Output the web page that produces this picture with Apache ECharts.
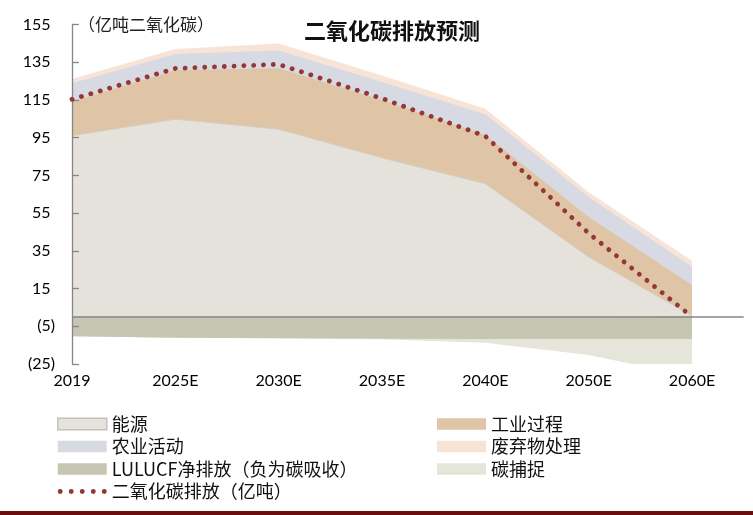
<!DOCTYPE html>
<html>
<head>
<meta charset="utf-8">
<title>二氧化碳排放预测</title>
<script src="https://cdn.jsdelivr.net/npm/echarts@6/dist/echarts.min.js"></script>
<style>
    html, body {margin: 0; padding: 0; background: #fff;}
    #report_box_id {width: 753px; height: 515px;}
</style>
</head>
<body>
<div id="report_box_id"></div>
<script>
// 横轴年份（等距排列）
var categories = ['2019', '2025E', '2030E', '2035E', '2040E', '2050E', '2060E'];
var yearIndex = [0, 1, 2, 3, 4, 5, 6];
// 正值部分（亿吨）
var energy = [96.0, 104.8, 99.5, 84.3, 70.6, 31.7, 0.5];
var industry = [18.2, 26.0, 32.3, 30.7, 25.8, 21.3, 16.4];
var agriculture = [9.7, 8.6, 9.4, 9.5, 11.0, 10.5, 9.7];
var waste = [2.2, 2.6, 3.7, 3.5, 2.9, 2.5, 3.2];
// 负值部分，2050E 与 2060E 之间有一个转折点
var negIndex = [0, 1, 2, 3, 4, 5, 5.5, 6];
var lulucf = [-10.3, -11.1, -11.3, -11.6, -11.7, -11.7, -11.7, -11.7];
var capture = [0, 0, 0, -0.3, -2.0, -8.5, -14.2, -14.2];
// 二氧化碳净排放
var co2 = [115.3, 131.7, 133.9, 115.8, 95.8, 44.3, 0];
// 纵轴刻度
var yTicks = [-25, -5, 15, 35, 55, 75, 95, 115, 135, 155];

var cjkFont = '"Noto Sans CJK SC", sans-serif';
var numFont = 'Lato, "Liberation Sans", sans-serif';
// 图例中的五个圆点
var dotsIcon = 'path://M0,2.35a2.35,2.35 0 1,0 4.7,0a2.35,2.35 0 1,0 -4.7,0z' +
    'M10.5,2.35a2.35,2.35 0 1,0 4.7,0a2.35,2.35 0 1,0 -4.7,0z' +
    'M21,2.35a2.35,2.35 0 1,0 4.7,0a2.35,2.35 0 1,0 -4.7,0z' +
    'M31.5,2.35a2.35,2.35 0 1,0 4.7,0a2.35,2.35 0 1,0 -4.7,0z' +
    'M42,2.35a2.35,2.35 0 1,0 4.7,0a2.35,2.35 0 1,0 -4.7,0z';

function pairs(xs, ys) {
    var list = [];
    for (var i = 0, lens = xs.length; i < lens; i++) {
        list.push([xs[i], ys[i]]);
    }
    return list;
}

// 逐层累加，得到每一层的上（下）边界
function addUp(lists) {
    var out = [];
    for (var i = 0, lens = lists[0].length; i < lens; i++) {
        var sum = 0;
        for (var k = 0; k < lists.length; k++) {
            sum += lists[k][i];
        }
        out.push(Math.round(sum * 100) / 100);
    }
    return out;
}

function areaSeries(name, xs, ys, color, edge) {
    return {
        name: name,
        type: 'line',
        symbol: 'none',
        data: pairs(xs, ys),
        itemStyle: {color: color},
        lineStyle: edge ? {width: 1, color: edge} : {width: 0},
        areaStyle: {color: color, opacity: 1, origin: 0},
        z: 2
    };
}

function rectLegend(name, color, border) {
    return {
        name: name,
        icon: 'rect',
        itemStyle: {color: color, borderColor: border || color, borderWidth: border ? 1.5 : 0}
    };
}

function initChart() {
    var myChart = echarts.init(document.getElementById('report_box_id'));
    var energyTop = energy;
    var industryTop = addUp([energy, industry]);
    var agricultureTop = addUp([energy, industry, agriculture]);
    var wasteTop = addUp([energy, industry, agriculture, waste]);
    var captureBottom = addUp([lulucf, capture]);
    var option = {
        animation: false,
        title: [{
            text: '二氧化碳排放预测',
            left: 299, top: 15,
            textStyle: {fontFamily: cjkFont, fontSize: 22, fontWeight: 'bold', color: '#111'}
        }, {
            text: '（亿吨二氧化碳）',
            left: 73, top: 11,
            textStyle: {fontFamily: cjkFont, fontSize: 17, fontWeight: 'normal', color: '#222'}
        }],
        legend: [{
            orient: 'vertical',
            left: 52, top: 410,
            itemWidth: 49, itemHeight: 11.5, itemGap: 4.5,
            selectedMode: false,
            textStyle: {fontFamily: cjkFont, fontSize: 18, lineHeight: 18, color: '#111'},
            data: [
                rectLegend('能源', '#e5e1db', '#c6c2bb'),
                rectLegend('农业活动', '#d7dae2'),
                rectLegend('LULUCF净排放（负为碳吸收）', '#c7c6b3'),
                {name: '二氧化碳排放（亿吨）', icon: dotsIcon, itemStyle: {color: '#953735', borderWidth: 0}}
            ]
        }, {
            orient: 'vertical',
            left: 432, top: 410,
            itemWidth: 49, itemHeight: 11.5, itemGap: 4.5,
            selectedMode: false,
            textStyle: {fontFamily: cjkFont, fontSize: 18, lineHeight: 18, color: '#111'},
            data: [
                rectLegend('工业过程', '#dfc5a5'),
                rectLegend('废弃物处理', '#f7e4d6'),
                rectLegend('碳捕捉', '#e6e5d9')
            ]
        }],
        grid: {left: 72, right: 9.3, top: 24.5, bottom: 151},
        xAxis: {
            type: 'value',
            min: 0, max: 6.5,
            axisLine: {show: false, onZero: false},
            axisTick: {show: false},
            splitLine: {show: false},
            axisLabel: {
                customValues: yearIndex,
                margin: 9,
                fontFamily: numFont, fontSize: 16, color: '#000',
                formatter: function (v) {
                    return categories[v] || '';
                }
            }
        },
        yAxis: {
            type: 'value',
            min: -25, max: 155,
            z: 3,
            splitLine: {show: false},
            axisLine: {show: true, onZero: false, lineStyle: {color: '#868686', width: 1.3}},
            axisTick: {show: true, inside: true, length: 7, customValues: yTicks, lineStyle: {color: '#868686', width: 1.3}},
            axisLabel: {
                customValues: yTicks,
                margin: 17,
                formatter: function (v) {
                    return v < 0 ? '{n|(' + Math.abs(v) + ')}' : '{p|' + v + '}';
                },
                rich: {
                    p: {fontFamily: numFont, fontSize: 16, color: '#000', padding: [0, 4.5, 0, 0]},
                    n: {fontFamily: numFont, fontSize: 16, color: '#000'}
                }
            }
        },
        series: [
            // 先画外层，再由内层覆盖
            areaSeries('废弃物处理', yearIndex, wasteTop, '#f7e4d6'),
            areaSeries('农业活动', yearIndex, agricultureTop, '#d7dae2'),
            areaSeries('工业过程', yearIndex, industryTop, '#dfc5a5'),
            areaSeries('能源', yearIndex, energyTop, '#e5e1db', '#d3cfc8'),
            areaSeries('碳捕捉', negIndex, captureBottom, '#e6e5d9'),
            areaSeries('LULUCF净排放（负为碳吸收）', negIndex, lulucf, '#c7c6b3'),
            {
                name: '二氧化碳排放（亿吨）',
                type: 'line',
                symbol: 'none',
                data: pairs(yearIndex, co2),
                itemStyle: {color: '#953735'},
                lineStyle: {color: '#953735', width: 4.8, type: [0.1, 9.7], cap: 'round'},
                z: 4,
                markLine: {
                    silent: true,
                    symbol: 'none',
                    label: {show: false},
                    lineStyle: {color: '#868686', width: 1.5, type: 'solid'},
                    data: [{yAxis: 0}],
                    z: 3
                }
            }
        ],
        graphic: [{
            type: 'rect',
            shape: {x: 0, y: 511, width: 753, height: 4},
            style: {fill: '#6b0c10'}
        }]
    };
    myChart.setOption(option, true);
}

initChart();
</script>
</body>
</html>
